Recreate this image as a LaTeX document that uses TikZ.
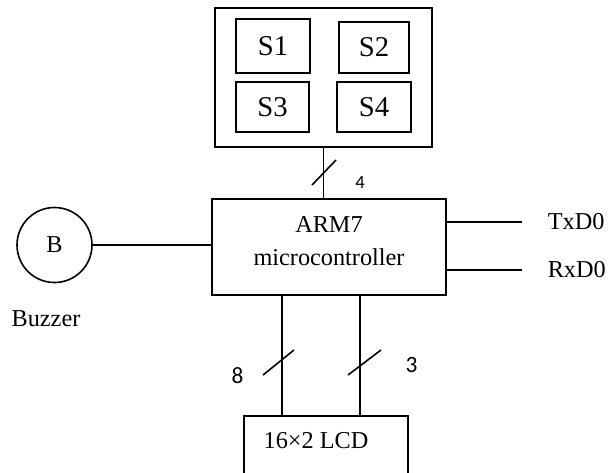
\documentclass[tikz,border=0pt]{standalone}
\usepackage{fontspec}
\setmainfont{Liberation Serif}
\newfontfamily\digfont{Carlito}
\begin{document}
\begin{tikzpicture}[x=0.75pt,y=-0.75pt,line width=1.2pt,
  box/.style={draw,rectangle,inner sep=0pt},
  txt/.style={inner sep=0pt,font=\fontsize{18.2}{24.2}\selectfont,align=center},
  swtxt/.style={font=\fontsize{21.5}{24}\selectfont},
  num/.style={inner sep=0pt,font=\digfont\fontsize{17.5}{20}\selectfont},
  smallnum/.style={inner sep=0pt,font=\digfont\fontsize{14}{16}\selectfont}]
\useasboundingbox (0,0) rectangle (614,472);
\clip (0,0) rectangle (614,472);
% switch block
\node[box,minimum width=162.75pt,minimum height=104.25pt] (sw) at (323.5,77.5) {};
\node[box,swtxt,minimum width=55.5pt,minimum height=40.5pt] (s1) at (273,46) {S1};
\node[box,swtxt,minimum width=52.5pt,minimum height=38.25pt] (s2) at (374,47.5) {S2};
\node[box,swtxt,minimum width=54.75pt,minimum height=37.5pt] (s3) at (272.5,107) {S3};
\node[box,swtxt,minimum width=55.5pt,minimum height=37.5pt] (s4) at (374,107) {S4};
% microcontroller
\node[box,minimum width=175.5pt,minimum height=72pt] (mcu) at (329,247) {};
\node[txt] (mcut) at (329,241) {ARM7\\microcontroller};
% buzzer
\node[draw,circle,minimum size=56.25pt,inner sep=0pt,txt] (buz) at (54.5,245) {B};
\node[txt] (buzl) at (46,319) {Buzzer};
% LCD
\node[box,minimum width=123pt,minimum height=63pt] (lcd) at (326,458) {};
\node[txt] (lcdt) at (316,441) {16×2 LCD};
% serial
\coordinate (txe) at (522,222);
\coordinate (rxe) at (522,270);
\node[txt,anchor=west] (tx) at (547,222) {TxD0};
\node[txt,anchor=west] (rx) at (547,270) {RxD0};
% connectors
\draw (sw.south) -- (sw.south |- mcu.north);
\draw (buz.east) -- (buz.east -| mcu.west);
\draw (txe -| mcu.east) -- (txe);
\draw (rxe -| mcu.east) -- (rxe);
\coordinate (b1) at (282,300);
\coordinate (b2) at (360,300);
\draw (b1 |- mcu.south) -- (b1 |- lcd.north);
\draw (b2 |- mcu.south) -- (b2 |- lcd.north);
% bus marks
\draw (312,185) -- (336,160);
\draw (263,375) -- (294,350);
\draw (348,375) -- (381,350);
\node[smallnum] (n4) at (360,183) {4};
\node[num] (n8) at (237.5,376) {8};
\node[num] (n3) at (411.5,364.5) {3};
\end{tikzpicture}
\end{document}
